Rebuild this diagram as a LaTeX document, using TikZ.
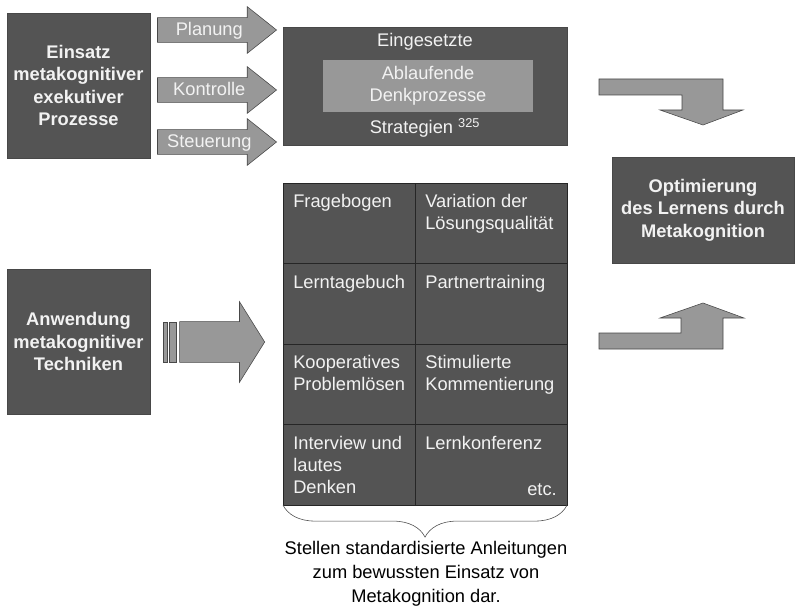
\documentclass[tikz,border=0pt]{standalone}
\usepackage{fontspec}
\setmainfont{Liberation Sans}
\usepackage{xcolor}
\usepackage{tikz}
\usetikzlibrary{positioning,shapes.arrows,decorations.pathreplacing}

\definecolor{boxgray}{RGB}{84,84,84}
\definecolor{arrowgray}{RGB}{152,152,152}
\definecolor{edgegray}{RGB}{72,72,72}
\definecolor{textgray}{RGB}{242,242,242}

\begin{document}
\begin{tikzpicture}[
    x=0.025cm, y=-0.025cm,
    font=\fontsize{13}{15.6}\selectfont,
    block/.style={
        draw=edgegray,
        fill=boxgray,
        text=textgray,
        align=center,
        outer sep=0pt,
        font=\fontsize{13}{16}\selectfont\bfseries
    },
    inner/.style={
        fill=arrowgray,
        text=textgray,
        align=center,
        minimum width=5.25cm,
        minimum height=1.3cm
    },
    cell/.style={
        draw=black!85,
        fill=boxgray,
        anchor=north west,
        outer sep=0pt,
        minimum height=2.0125cm
    },
    celltext/.style={
        text=textgray,
        align=left,
        anchor=north west,
        inner xsep=0.25cm,
        inner ysep=0.28cm
    },
    blockarrow/.style={
        single arrow,
        draw=edgegray,
        fill=arrowgray,
        text=textgray,
        anchor=tip,
        single arrow head indent=0pt,
        single arrow head extend=0.275cm,
        text height=10.5pt,
        text depth=2pt,
        inner ysep=2.3pt,
        inner xsep=2pt,
        minimum height=2.975cm,
        single arrow tip angle=77
    },
    strip/.style={
        draw=edgegray,
        fill=arrowgray,
        outer sep=0pt,
        inner sep=0pt,
        minimum height=1cm
    },
    bent/.style={draw=edgegray, fill=arrowgray}
]
\useasboundingbox (0,0) rectangle (796,610);

% --- Left blocks ---
\node[block, minimum width=3.575cm, minimum height=3.625cm] (einsatz) at (78.5,85.5)
    {Einsatz\\metakognitiver\\exekutiver\\Prozesse};
\node[block, minimum width=3.575cm, minimum height=3.625cm] (anwendung) at (78.5,341.5)
    {Anwendung\\metakognitiver\\Techniken};

% --- Strategies ---
\node[block, minimum width=7.1cm, minimum height=2.95cm] (strategien) at (425,86) {};
\node[inner] (ablauf) at (428,86) {Ablaufende\\Denkprozesse};
\node[text=textgray] (eing) at (425,42) {Eingesetzte};
\node[text=textgray] (strat) at (425,128) {Strategien \textsuperscript{325}};

% --- Arrows into strategies ---
\node[blockarrow] (planung) at (277,30) {Planung};
\node[blockarrow] (kontrolle) at (277,90) {Kontrolle};
\node[blockarrow] (steuerung) at (277,142) {Steuerung};

% --- Techniques table ---
\node[cell, minimum width=3.3cm] (c11) at (283,183) {};
\node[cell, minimum width=3.8cm, right=0pt of c11] (c12) {};
\node[cell, minimum width=3.3cm, below=0pt of c11] (c21) {};
\node[cell, minimum width=3.8cm, right=0pt of c21] (c22) {};
\node[cell, minimum width=3.3cm, below=0pt of c21] (c31) {};
\node[cell, minimum width=3.8cm, right=0pt of c31] (c32) {};
\node[cell, minimum width=3.3cm, below=0pt of c31] (c41) {};
\node[cell, minimum width=3.8cm, right=0pt of c41] (c42) {};

\node[celltext] at (c11.north west) {Fragebogen};
\node[celltext] at (c12.north west) {Variation der\\Lösungsqualität};
\node[celltext] at (c21.north west) {Lerntagebuch};
\node[celltext] at (c22.north west) {Partnertraining};
\node[celltext] at (c31.north west) {Kooperatives\\Problemlösen};
\node[celltext] at (c32.north west) {Stimulierte\\Kommentierung};
\node[celltext] at (c41.north west) {Interview und\\lautes\\Denken};
\node[celltext] at (c42.north west) {Lernkonferenz};
\node[text=textgray, anchor=south east, inner xsep=0.25cm, inner ysep=0.22cm] (etc) at (c42.south east) {etc.};

% --- Arrow into table ---
\node[blockarrow, minimum height=2.125cm, single arrow head extend=0.5cm, single arrow tip angle=116,
      text height=0pt, text depth=0pt, inner ysep=0.5cm] (techpfeil) at (265,342) {};
\node[strip, minimum width=0.175cm, left=0.075cm of techpfeil.tail] (strip2) {};
\node[strip, minimum width=0.1cm, left=0.05cm of strip2] (strip1) {};

% --- Result ---
\node[block, minimum width=4.55cm, minimum height=2.65cm] (optim) at (703,210)
    {Optimierung\\des Lernens durch\\Metakognition};

% --- Bent arrows ---
\draw[bent] (599,79) -- (723,79) -- (723,110) -- (743,110) -- (703,125)
    -- (660,110) -- (682,110) -- (682,95) -- (599,95) -- cycle;
\draw[bent] (599,349) -- (723,349) -- (723,318) -- (744,318) -- (703,303)
    -- (660,318) -- (681,318) -- (681,333) -- (599,333) -- cycle;

% --- Brace and note ---
\draw[edgegray, decorate, decoration={brace, mirror, amplitude=0.8cm}]
    (c41.south west) -- (c42.south east);
\node[align=center, font=\fontsize{13}{17}\selectfont] (note) at (426,574)
    {Stellen standardisierte Anleitungen\\zum bewussten Einsatz von\\Metakognition dar.};

\end{tikzpicture}
\end{document}
